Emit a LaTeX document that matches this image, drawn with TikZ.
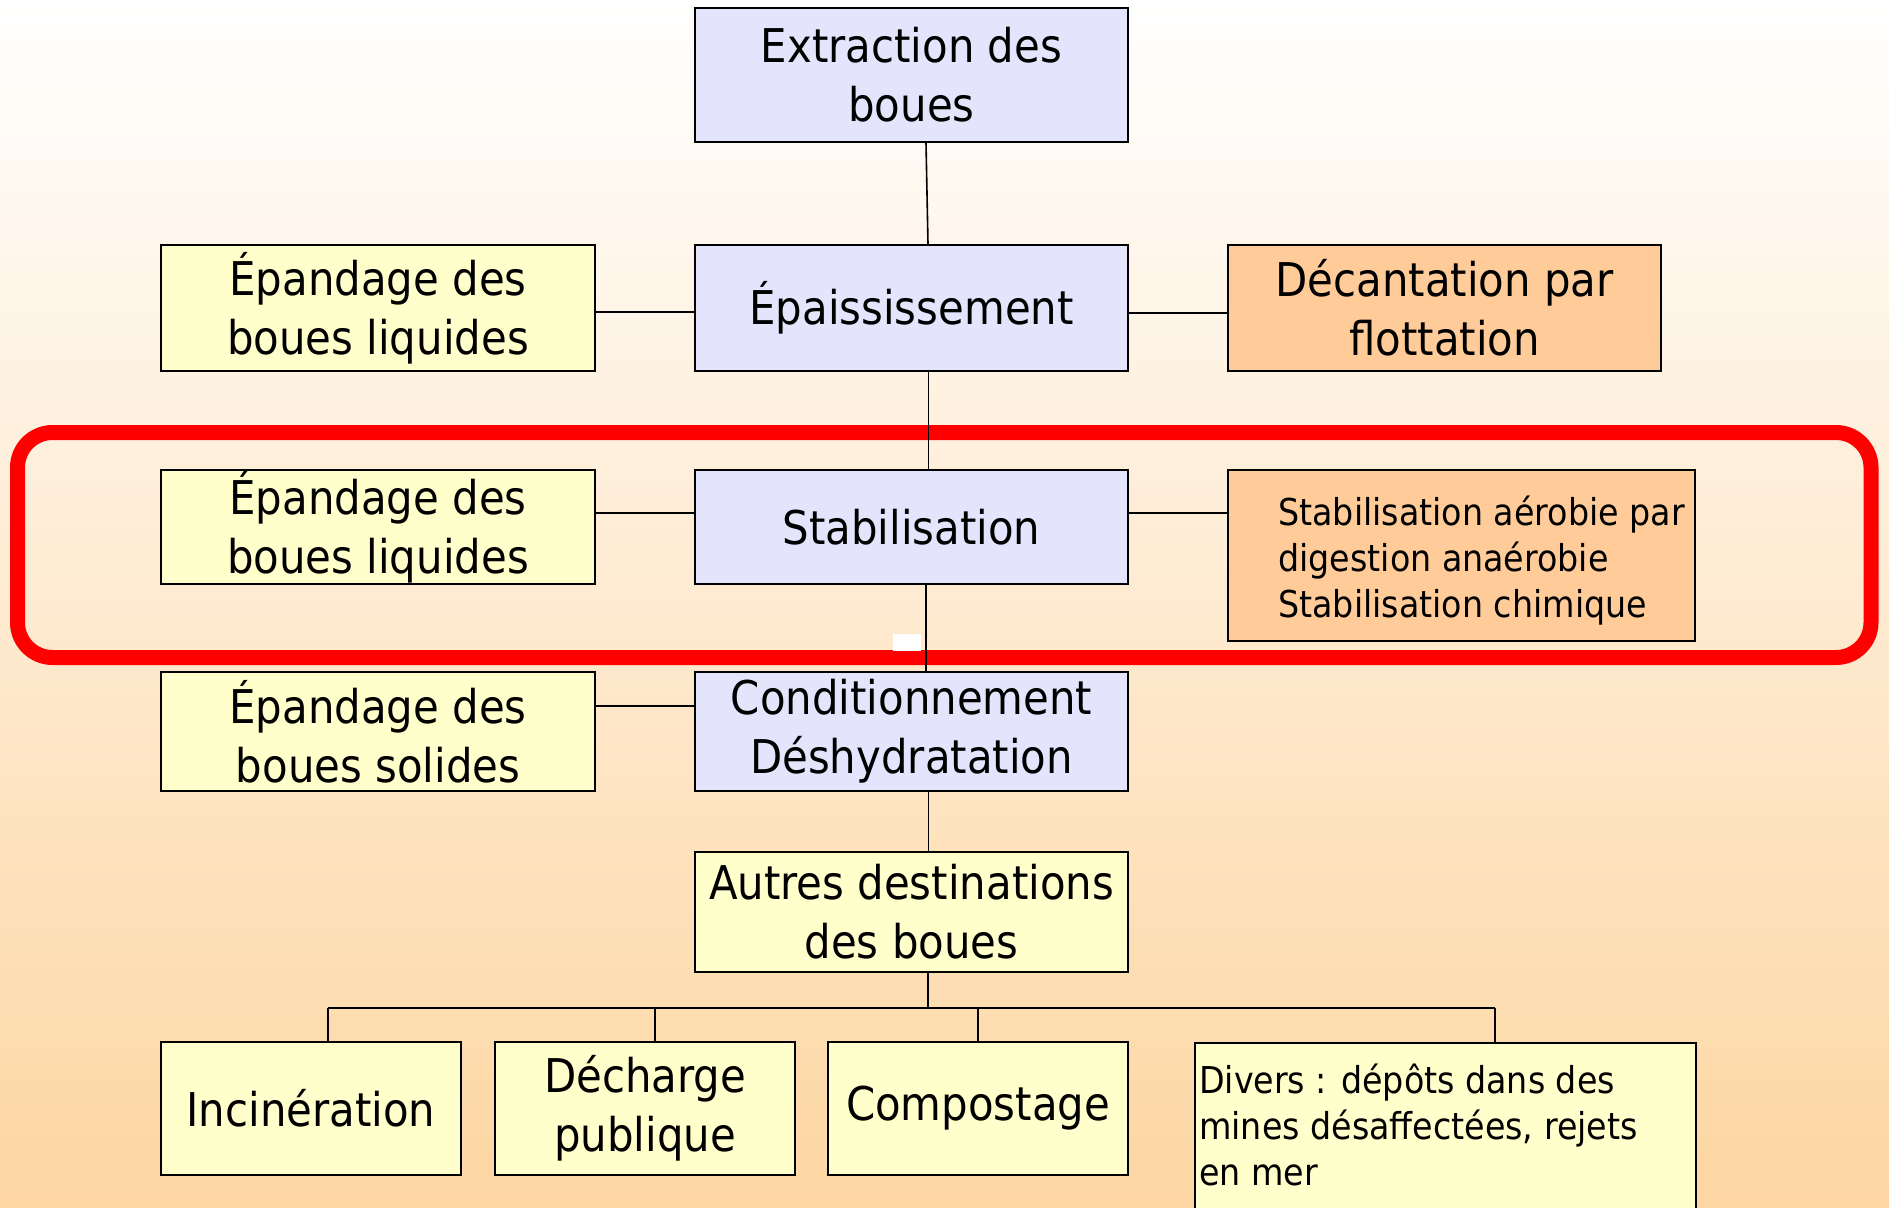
\documentclass[tikz,border=0pt]{standalone}
\usepackage{fontspec}
\setmainfont{DejaVu Sans}[FakeStretch=0.9]

\definecolor{bluebox}{HTML}{E4E4FC}
\definecolor{yellowbox}{HTML}{FFFFCC}
\definecolor{orangebox}{HTML}{FFCC99}
\definecolor{bgtop}{HTML}{FFFFFF}
\definecolor{bgbottom}{HTML}{FDD6A2}
\definecolor{framered}{HTML}{FF0000}

\tikzset{
  every box/.style={draw=black, line width=1.8pt, inner sep=0pt, align=center,
    font=\fontsize{46.5}{59}\selectfont},
  box blue/.style={fill=bluebox},
  box yellow/.style={fill=yellowbox},
  box orange/.style={fill=orangebox},
  small text/.style={inner sep=0pt, align=left, font=\fontsize{37}{46}\selectfont},
  link/.style={draw=black, line width=1.6pt}
}

\begin{document}
\begin{tikzpicture}[x=1pt, y=-1pt]
% Background
\useasboundingbox (0,0) rectangle (1889,1207);
\clip (0,0) rectangle (1889,1207);
\shade[top color=bgtop, bottom color=bgbottom] (0,0) rectangle (1889,1207);

% Highlight frame
\draw[framered, line width=15pt, rounded corners=35pt] (17.5,432.5) rectangle (1871,657.5);
\fill[white] (893,634) rectangle (921,651);

% Draw main chain
\node[every box, box blue, minimum width=433, minimum height=134] (extr) at (911.5,75) {Extraction des\\boues};
\node[every box, box blue, minimum width=433, minimum height=126] (epai) at (911.5,308) {Épaississement};
\node[every box, box blue, minimum width=433, minimum height=114] (stab) at (911.5,527) {Stabilisation};
\node[every box, box blue, minimum width=433, minimum height=119] (cond) at (911.5,731.5) {Conditionnement\\Déshydratation};
\node[every box, box yellow, minimum width=433, minimum height=120] (autr) at (911.5,912) {Autres destinations\\des boues};

% Draw spreading boxes
\foreach \n/\y/\h/\t in {1/308/126/{Épandage des\\boues liquides},
                         2/527/114/{Épandage des\\boues liquides},
                         3/731.5/119/{Épandage des\\boues solides}}
  \node[every box, box yellow, minimum width=434, minimum height=\h] (epl-\n) at (378,\y) {\t};

% Draw side processes
\node[every box, box orange, minimum width=433, minimum height=126] (deca) at (1444.5,308) {Décantation par\\flottation};
\node[every box, box orange, minimum width=467, minimum height=171] (stabo) at (1461.5,555.5) {};
\node[small text, anchor=west] (stabo-text) at ([xshift=51, yshift=-5]stabo.west)
  {Stabilisation aérobie par\\digestion anaérobie\\Stabilisation chimique};

% Draw destinations
\foreach \n/\x/\t in {inci/311/Incinération, dech/645/{Décharge\\publique}, comp/978/Compostage}
  \node[every box, box yellow, minimum width=300, minimum height=133] (\n) at (\x,1108.5) {\t};
\node[every box, box yellow, minimum width=501, minimum height=200, anchor=north west] (div) at (1194,1042) {};
\node[small text, anchor=north west] (div-text) at ([xshift=5, yshift=-22]div.north west)
  {Divers : dépôts dans des\\mines désaffectées, rejets\\en mer};

% Connect main chain
\draw[link] ([xshift=14.5]extr.south) -- ([xshift=16.5]epai.north);
\draw[link] ([xshift=17]epai.south) -- ([xshift=17]stab.north);
\draw[link] ([xshift=14.5]stab.south) -- ([xshift=14.5]cond.north);
\draw[link] ([xshift=17]cond.south) -- ([xshift=17]autr.north);

% Connect side boxes
\draw[link] ([yshift=-4]epl-1.east) -- ([yshift=-4]epai.west);
\draw[link] ([yshift=-5]epai.east) -- ([yshift=-5]deca.west);
\draw[link] ([yshift=14]epl-2.east) -- ([yshift=14]stab.west);
\draw[link] ([yshift=14]stab.east) -- ([yshift=42.5]stabo.west);
\draw[link] ([yshift=25.5]epl-3.east) -- ([yshift=25.5]cond.west);

% Connect destinations
\coordinate (bus) at (928,1008);
\draw[link] ([xshift=16.5]autr.south) -- (bus);
\foreach \n/\s in {inci/17, dech/10, comp/0, div/49.5}
{
  \coordinate (\n-up) at ([xshift=\s]\n.north |- bus);
  \draw[link] ([xshift=\s]\n.north) -- (\n-up);
}
\draw[link] (inci-up) -- (div-up);
\end{tikzpicture}
\end{document}
